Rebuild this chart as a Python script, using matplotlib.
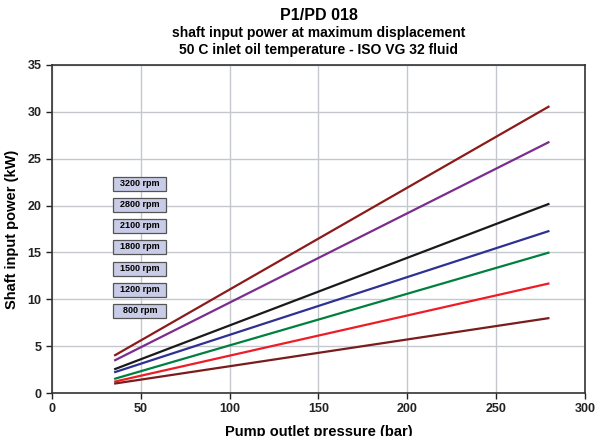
import matplotlib
matplotlib.use("Agg")
import matplotlib.pyplot as plt
from matplotlib.patches import Rectangle

plt.rcParams['font.family'] = ['Liberation Sans', 'DejaVu Sans']

# data
speeds = ['3200 rpm', '2800 rpm', '2100 rpm', '1800 rpm', '1500 rpm', '1200 rpm', '800 rpm']
pressure = [35, 280]
power_start = [3.98, 3.45, 2.52, 2.2, 1.5, 1.2, 1.0]
power_end = [30.6, 26.8, 20.2, 17.3, 15.0, 11.7, 8.0]
colors = ['#8b1a1a', '#7b2d8e', '#1a1a1a', '#2e3192', '#00803e', '#ee1c25', '#7a1c1c']

fig = plt.figure(figsize=(5.96, 4.36), dpi=100)
ax = fig.add_axes([0.0872, 0.0986, 0.8943, 0.7524])

for s, p0, p1, c in zip(speeds, power_start, power_end, colors):
    ax.plot(pressure, [p0, p1], color=c, lw=1.6, solid_capstyle='butt')

ax.set_xlim(0, 300)
ax.set_ylim(0, 35)
ax.set_xticks(range(0, 301, 50))
ax.set_yticks(range(0, 36, 5))
ax.grid(True, color='#c4c8cc', lw=1.0)
ax.set_axisbelow(True)
for sp in ax.spines.values():
    sp.set_color('#333333')
    sp.set_linewidth(1.2)
ax.tick_params(labelsize=9, width=1, length=4, colors='#222222')
for lab in ax.get_xticklabels() + ax.get_yticklabels():
    lab.set_fontweight('bold')

ax.set_xlabel('Pump outlet pressure (bar)', fontsize=10.5, fontweight='bold', labelpad=7)
ax.set_ylabel('Shaft input power (kW)', fontsize=10.5, fontweight='bold', labelpad=6)

fig.text(0.535, 0.965, 'P1/PD 018', ha='center', va='center', fontsize=11.5, fontweight='bold')
fig.text(0.535, 0.925, 'shaft input power at maximum displacement', ha='center', va='center',
         fontsize=10, fontweight='bold')
fig.text(0.535, 0.885, '50 C inlet oil temperature - ISO VG 32 fluid', ha='center', va='center',
         fontsize=10, fontweight='bold')

# speed labels in boxes
box_y = [184, 205, 226, 247, 269, 290, 311]
bw, bh = 53 / 533, 14 / 328
xc = (140 - 52) / 533
for s, y in zip(speeds, box_y):
    yc = (393 - y) / 328
    ax.add_patch(Rectangle((xc - bw / 2, yc - bh / 2), bw, bh, transform=ax.transAxes,
                           fc='#c9cce6', ec='#555555', lw=0.9, zorder=5))
    ax.text(xc, yc, s, transform=ax.transAxes, ha='center', va='center',
            fontsize=6.5, fontweight='bold', zorder=6)

fig.savefig('out.png', dpi=100)
